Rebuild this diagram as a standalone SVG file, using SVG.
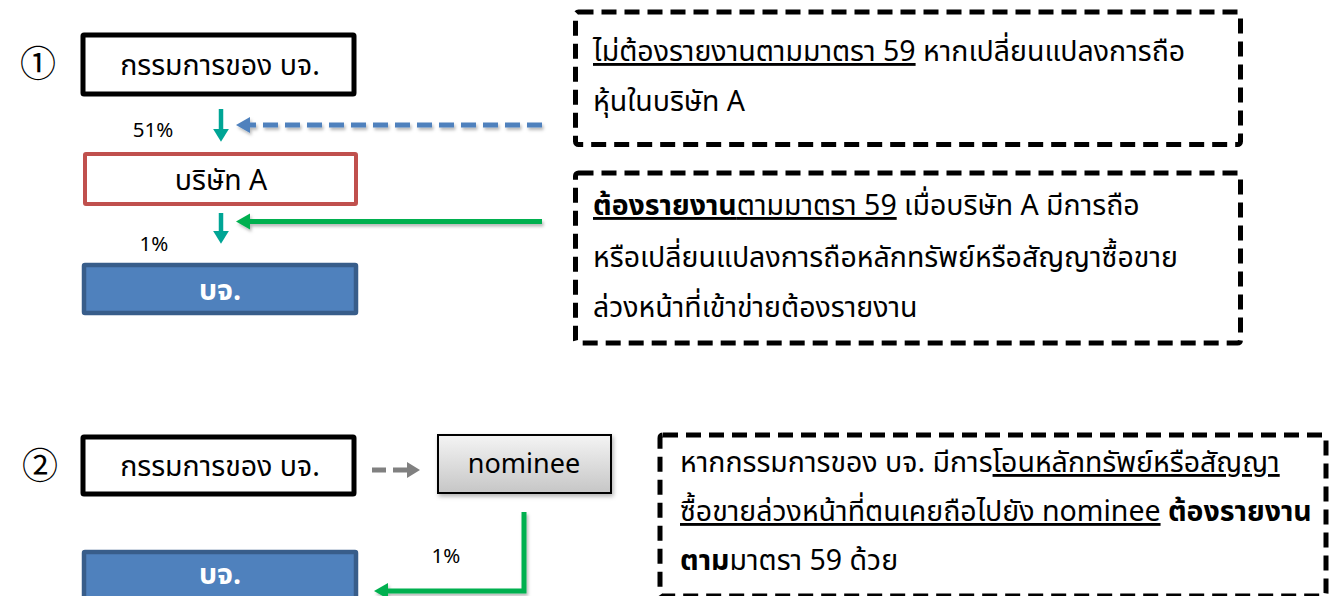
<svg xmlns="http://www.w3.org/2000/svg" width="1334" height="596" viewBox="0 0 1334 596">
  <style>
    text { font-family: "Noto Sans Thai", "Noto Sans", "DejaVu Sans", sans-serif; fill: #000; }
    .node { font-size: 28.5px; text-anchor: middle; }
    .pct { font-size: 20.5px; text-anchor: middle; }
    .note { font-size: 28.5px; }
    .num { font-family: "Noto Sans CJK JP", "DejaVu Sans", sans-serif; font-size: 36px; text-anchor: middle; }
    .dash { fill: none; stroke: #000; stroke-width: 5; stroke-dasharray: 15 8; }
    .u { text-decoration: underline; }
    .b { font-weight: bold; }
  </style>
  <defs>
    <marker id="teal" markerWidth="5" markerHeight="5" refX="1.2" refY="1.8" orient="auto" markerUnits="strokeWidth">
      <path d="M0,0 L2.9,1.8 L0,3.6 z" fill="#00a595"/>
    </marker>
    <marker id="blue" markerWidth="5" markerHeight="5" refX="1.2" refY="1.6" orient="auto" markerUnits="strokeWidth">
      <path d="M0,0 L2.8,1.6 L0,3.2 z" fill="#4f81bd"/>
    </marker>
    <marker id="green" markerWidth="5" markerHeight="5" refX="1.2" refY="1.6" orient="auto" markerUnits="strokeWidth">
      <path d="M0,0 L2.8,1.6 L0,3.2 z" fill="#00b050"/>
    </marker>
    <marker id="gray" markerWidth="5" markerHeight="5" refX="1.2" refY="1.6" orient="auto" markerUnits="strokeWidth">
      <path d="M0,0 L2.6,1.6 L0,3.2 z" fill="#808080"/>
    </marker>
    <linearGradient id="grayGrad" x1="0" y1="0" x2="0" y2="1">
      <stop offset="0" stop-color="#f4f4f4"/>
      <stop offset="1" stop-color="#c6c6c6"/>
    </linearGradient>
    <filter id="shadow" x="-10%" y="-20%" width="130%" height="160%">
      <feDropShadow dx="1.5" dy="2.5" stdDeviation="2" flood-color="#000" flood-opacity="0.3"/>
    </filter>
    <filter id="lshadow" filterUnits="userSpaceOnUse" x="0" y="0" width="1334" height="596">
      <feDropShadow dx="1.5" dy="2.5" stdDeviation="1.8" flood-color="#000" flood-opacity="0.28"/>
    </filter>
  </defs>

  <!-- circled numbers -->
  <text class="num" x="38" y="77">①</text>
  <text class="num" x="40" y="479">②</text>

  <!-- Section 1 nodes -->
  <g id="director1">
    <rect x="83" y="35" width="271" height="59" fill="#fff" stroke="#000" stroke-width="5" rx="1"/>
    <text class="node" x="220" y="75">กรรมการของ บจ.</text>
  </g>
  <g id="companyA">
    <rect x="85" y="154" width="271" height="50" fill="#fff" stroke="#c0504d" stroke-width="4" rx="1"/>
    <text class="node" x="221" y="190">บริษัท A</text>
  </g>
  <g id="listed1">
    <rect x="84" y="265" width="272" height="48" fill="#4f81bd" stroke="#385d8a" stroke-width="4.5" rx="1"/>
    <text class="node b" x="220" y="300" style="fill:#fff">บจ.</text>
  </g>

  <g id="note1">
    <rect class="dash" x="575.5" y="12" width="665" height="132.5" rx="3"/>
    <text class="note" x="593" y="61"><tspan class="u">ไม่ต้องรายงานตามมาตรา 59</tspan> หากเปลี่ยนแปลงการถือ</text>
    <text class="note" x="593" y="111">หุ้นในบริษัท A</text>
  </g>
  <g id="note2">
    <rect class="dash" x="575.5" y="173" width="665" height="170" rx="3"/>
    <text class="note" x="593" y="215"><tspan class="u b">ต้องรายงาน</tspan><tspan class="u">ตามมาตรา 59</tspan> เมื่อบริษัท A มีการถือ</text>
    <text class="note" x="593" y="267">หรือเปลี่ยนแปลงการถือหลักทรัพย์หรือสัญญาซื้อขาย</text>
    <text class="note" x="593" y="317">ล่วงหน้าที่เข้าข่ายต้องรายงาน</text>
  </g>

  <!-- Section 2 nodes -->
  <g id="director2">
    <rect x="83" y="437" width="271" height="57" fill="#fff" stroke="#000" stroke-width="5" rx="1"/>
    <text class="node" x="220" y="476">กรรมการของ บจ.</text>
  </g>
  <g id="nominee">
    <rect x="438" y="435" width="173" height="58" fill="url(#grayGrad)" stroke="#000" stroke-width="2" filter="url(#shadow)"/>
    <text x="524" y="473" style="font-family:'Noto Sans',sans-serif;font-size:27px;text-anchor:middle">nominee</text>
  </g>
  <g id="listed2">
    <rect x="84" y="552" width="272" height="60" fill="#4f81bd" stroke="#385d8a" stroke-width="4.5" rx="1"/>
    <text class="node b" x="220" y="584" style="fill:#fff">บจ.</text>
  </g>
  <g id="note3">
    <rect class="dash" x="660" y="435" width="666" height="161" rx="3"/>
    <text class="note" x="680" y="472">หากกรรมการของ บจ. มีการ<tspan class="u">โอนหลักทรัพย์หรือสัญญา</tspan></text>
    <text class="note" x="680" y="521"><tspan class="u">ซื้อขายล่วงหน้าที่ตนเคยถือไปยัง nominee</tspan> <tspan class="b">ต้องรายงาน</tspan></text>
    <text class="note" x="680" y="570"><tspan class="b">ตาม</tspan>มาตรา 59 ด้วย</text>
  </g>

  <!-- connectors -->
  <g id="connectors">
    <line x1="221" y1="109" x2="221" y2="134" stroke="#00a595" stroke-width="4.5" marker-end="url(#teal)"/>
    <line x1="221" y1="213" x2="221" y2="236" stroke="#00a595" stroke-width="4.5" marker-end="url(#teal)"/>
    <line x1="542" y1="125" x2="244" y2="125" stroke="#4f81bd" stroke-width="5" stroke-dasharray="15 7" marker-end="url(#blue)" filter="url(#lshadow)"/>
    <line x1="542" y1="221.5" x2="244" y2="221.5" stroke="#00b050" stroke-width="5" marker-end="url(#green)" filter="url(#lshadow)"/>
    <line x1="372" y1="470" x2="413" y2="470" stroke="#808080" stroke-width="5" stroke-dasharray="14 7" marker-end="url(#gray)"/>
    <polyline points="524,512 524,591 382,591" fill="none" stroke="#00b050" stroke-width="5" marker-end="url(#green)" filter="url(#lshadow)"/>
  </g>

  <text class="pct" x="153" y="137">51%</text>
  <text class="pct" x="154" y="251">1%</text>
  <text class="pct" x="446" y="563">1%</text>
</svg>
